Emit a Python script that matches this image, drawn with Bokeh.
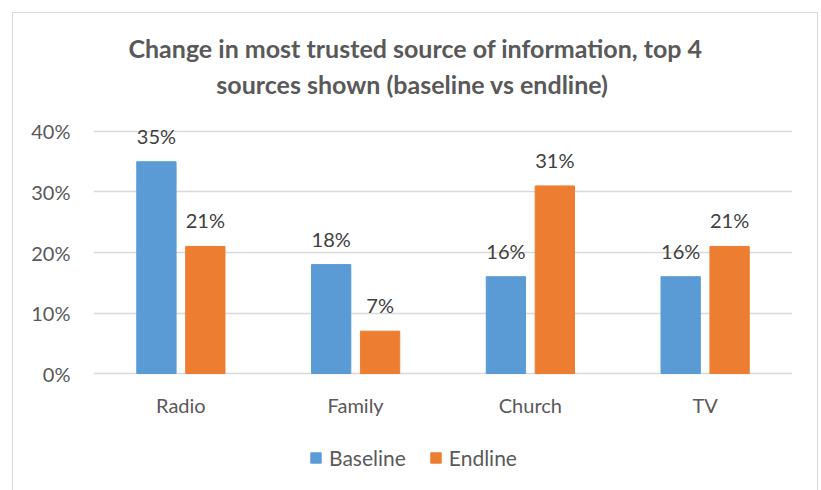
from bokeh.plotting import figure
from bokeh.models import ColumnDataSource, FactorRange, NumeralTickFormatter, Label, Range1d
from bokeh.transform import dodge
from bokeh.core.properties import value
from bokeh.embed import file_html
from bokeh.resources import INLINE

categories = ["Radio", "Family", "Church", "TV"]
baseline = [0.35, 0.18, 0.16, 0.16]
endline = [0.21, 0.07, 0.31, 0.21]
y_ticks = [0, 0.1, 0.2, 0.3, 0.4]
title_line1 = "Change in most trusted source of information, top 4"
title_line2 = "sources shown  (baseline vs endline)"

BLUE = "#5B9BD5"
ORANGE = "#ED7D31"
GRID = "#D9D9D9"
AXIS_TXT = "#595959"
LABEL_TXT = "#404040"
FONT = "Lato"

src = ColumnDataSource(dict(
    cat=categories,
    zero=[0] * len(categories),
    base=baseline,
    end=endline,
    base_lbl=[f"{round(v*100)}%" for v in baseline],
    end_lbl=[f"{round(v*100)}%" for v in endline],
))

# The plot frame spans the whole chart box; the value axis (0..40%) occupies
# its middle band, title above and legend below are drawn inside the frame.
p = figure(
    x_range=FactorRange(*categories, range_padding=0),
    y_range=Range1d(-0.195, 0.595),
    width=806, height=478,
    output_backend="svg", toolbar_location=None,
    min_border_left=80, min_border_right=27, min_border_top=0, min_border_bottom=0,
    margin=(12, 0, 0, 12),
    styles={"border-top": "1px solid #D9D9D9", "border-left": "1px solid #D9D9D9",
            "border-right": "1px solid #D9D9D9"},
)
p.outline_line_color = None
p.background_fill_color = "white"
p.border_fill_color = "white"

off = 0.14
bw = 0.225
p.vbar(x=dodge("cat", -off, range=p.x_range), top="base", width=bw, source=src,
       fill_color=BLUE, line_color=BLUE, legend_label="Baseline")
p.vbar(x=dodge("cat", off, range=p.x_range), top="end", width=bw, source=src,
       fill_color=ORANGE, line_color=ORANGE, legend_label="Endline")

for col, lbl, o in (("base", "base_lbl", -off), ("end", "end_lbl", off)):
    p.text(x=dodge("cat", o, range=p.x_range), y=col, text=lbl, source=src,
           text_align="center", text_baseline="middle", y_offset=-26,
           text_font=value(FONT), text_font_size="20px", text_color=LABEL_TXT)

# category labels under the 0% line
p.text(x="cat", y="zero", text="cat", source=src, text_align="center",
       text_baseline="middle", y_offset=31, text_font=value(FONT),
       text_font_size="20px", text_color=AXIS_TXT)

# axes
p.xaxis.visible = False
p.yaxis.ticker = y_ticks
p.yaxis.formatter = NumeralTickFormatter(format="0%")
ax = p.yaxis[0]
ax.axis_line_color = None
ax.major_tick_line_color = None
ax.minor_tick_line_color = None
ax.major_tick_out = 0
ax.major_tick_in = 0
ax.major_label_text_font = FONT
ax.major_label_text_font_size = "20px"
ax.major_label_text_color = AXIS_TXT
ax.major_label_standoff = 23

p.xgrid.grid_line_color = None
p.ygrid.grid_line_color = GRID
p.ygrid.grid_line_width = 1.5
p.ygrid.ticker = y_ticks

# title lines, centred on the chart box
for txt, yy in ((title_line1, 444), (title_line2, 408)):
    p.add_layout(Label(x=322, y=yy, x_units="screen", y_units="screen", text=txt,
                       text_align="center", text_baseline="middle", text_font=FONT,
                       text_font_size="25px", text_font_style="bold",
                       text_color=AXIS_TXT))

# legend
lg = p.legend[0]
lg.orientation = "horizontal"
lg.location = (216, 21)
lg.border_line_color = None
lg.background_fill_alpha = 0
lg.padding = 0
lg.margin = 0
lg.spacing = 23
lg.label_standoff = 7
lg.glyph_width = 13
lg.glyph_height = 13
lg.label_text_font = FONT
lg.label_text_font_size = "21px"
lg.label_text_color = AXIS_TXT

open("out.html", "w").write(file_html(p, INLINE))
